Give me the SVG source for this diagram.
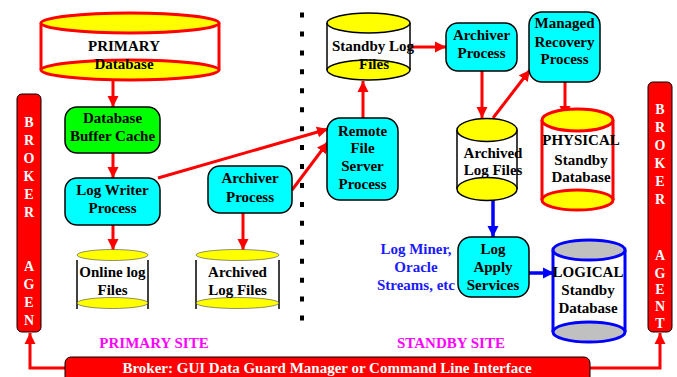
<svg xmlns="http://www.w3.org/2000/svg" width="677" height="377" viewBox="0 0 677 377">
  <style>
    text { font-family: "Liberation Serif", "Times New Roman", serif; font-weight: bold; font-size: 15px; text-anchor: middle; }
    .lbl { fill: #000; }
    .white { fill: #fff; }
    .agent { fill: #fff; font-size: 14px; }
    .site { fill: #ff00ff; }
    .blue { fill: #1a1aff; }
    .proc { fill: #00ffff; stroke: #000; stroke-width: 1.5; }
    .cache { fill: #00ff00; stroke: #000; stroke-width: 1.5; }
    .red { stroke: #ff0000; stroke-width: 3; fill: none; }
    .bluel { stroke: #0000ff; stroke-width: 3.5; fill: none; }
    .yel { fill: #ffff00; }
    .body { fill: #fff; }
  </style>
  <defs>
    <marker id="arrRed" markerUnits="userSpaceOnUse" markerWidth="12" markerHeight="12" viewBox="0 0 12 12" refX="11" refY="6" orient="auto">
      <path d="M0,0.5 L11,6 L0,11.5 Z" fill="#ff0000"/>
    </marker>
    <marker id="arrBlue" markerUnits="userSpaceOnUse" markerWidth="12" markerHeight="12" viewBox="0 0 12 12" refX="11" refY="6" orient="auto">
      <path d="M0,0.5 L11,6 L0,11.5 Z" fill="#0000ff"/>
    </marker>
  </defs>

  <!-- site divider -->
  <line x1="302" y1="12.5" x2="302" y2="322" stroke="#000" stroke-width="4" stroke-dasharray="5 13.94"/>

  <!-- connectors -->
  <g id="connectors">
    <line class="red" x1="113" y1="80" x2="113" y2="107" marker-end="url(#arrRed)"/>
    <line class="red" x1="113" y1="153" x2="113" y2="178" marker-end="url(#arrRed)"/>
    <line class="red" x1="113" y1="225" x2="113" y2="250" marker-end="url(#arrRed)"/>
    <line class="red" x1="243" y1="213" x2="243" y2="250" marker-end="url(#arrRed)"/>
    <line class="red" x1="158" y1="178" x2="328" y2="129" marker-end="url(#arrRed)"/>
    <line class="red" x1="292" y1="190" x2="328" y2="142" marker-end="url(#arrRed)"/>
    <line class="red" x1="363" y1="118" x2="363" y2="81" marker-end="url(#arrRed)"/>
    <line class="red" x1="411" y1="47" x2="446" y2="47" marker-end="url(#arrRed)"/>
    <line class="red" x1="482" y1="71" x2="482" y2="118" marker-end="url(#arrRed)"/>
    <line class="red" x1="493" y1="118" x2="530" y2="70" marker-end="url(#arrRed)"/>
    <line class="red" x1="565" y1="82" x2="565" y2="117" marker-end="url(#arrRed)"/>
    <line class="bluel" x1="493" y1="200" x2="493" y2="237" marker-end="url(#arrBlue)"/>
    <line class="bluel" x1="529" y1="273" x2="554" y2="273" marker-end="url(#arrBlue)"/>
    <polyline class="red" stroke-width="2.5" points="65,368 30,368 30,333" marker-end="url(#arrRed)"/>
    <polyline class="red" stroke-width="2.5" points="590,368 660,368 660,333" marker-end="url(#arrRed)"/>
  </g>

  <!-- primary site -->
  <g id="primary-db">
    <rect class="body" x="41" y="23" width="178" height="47"/>
    <line x1="41" y1="23" x2="41" y2="70" stroke="#ff0000" stroke-width="3"/>
    <line x1="219" y1="23" x2="219" y2="70" stroke="#ff0000" stroke-width="3"/>
    <ellipse class="yel" cx="130" cy="23" rx="89" ry="10" stroke="#ff0000" stroke-width="3"/>
    <ellipse class="yel" cx="130" cy="70" rx="89" ry="10" stroke="#ff0000" stroke-width="3"/>
    <text class="lbl" x="124" y="51">PRIMARY</text>
    <text class="lbl" x="124" y="69">Database</text>
  </g>

  <g id="buffer-cache">
    <rect class="cache" x="65" y="107" width="95" height="46" rx="12"/>
    <text class="lbl" x="112.5" y="123">Database</text>
    <text class="lbl" x="112.5" y="141">Buffer Cache</text>
  </g>

  <g id="log-writer">
    <rect class="proc" x="65" y="178" width="95" height="47" rx="12"/>
    <text class="lbl" x="112.5" y="195">Log Writer</text>
    <text class="lbl" x="112.5" y="213">Process</text>
  </g>

  <g id="online-logs">
    <rect class="body" x="77" y="255" width="71" height="48"/>
    <line x1="77" y1="260" x2="77" y2="309" stroke="#000" stroke-width="1.5"/>
    <line x1="148" y1="260" x2="148" y2="309" stroke="#000" stroke-width="1.5"/>
    <ellipse class="yel" cx="112.5" cy="255" rx="35.5" ry="5.5" stroke="#444" stroke-width="0.6"/>
    <ellipse class="yel" cx="112.5" cy="303" rx="35.5" ry="5.5" stroke="#444" stroke-width="0.6"/>
    <text class="lbl" x="112.5" y="277">Online log</text>
    <text class="lbl" x="112.5" y="295">Files</text>
  </g>

  <g id="primary-archiver">
    <rect class="proc" x="208" y="166" width="84" height="47" rx="12"/>
    <text class="lbl" x="250" y="183">Archiver</text>
    <text class="lbl" x="250" y="202">Process</text>
  </g>

  <g id="primary-archived-logs">
    <rect class="body" x="196" y="255" width="83" height="48"/>
    <line x1="196" y1="260" x2="196" y2="309" stroke="#000" stroke-width="1.5"/>
    <line x1="279" y1="260" x2="279" y2="309" stroke="#000" stroke-width="1.5"/>
    <ellipse class="yel" cx="237.5" cy="255" rx="41.5" ry="5.5" stroke="#444" stroke-width="0.6"/>
    <ellipse class="yel" cx="237.5" cy="303" rx="41.5" ry="5.5" stroke="#444" stroke-width="0.6"/>
    <text class="lbl" x="237.5" y="277">Archived</text>
    <text class="lbl" x="237.5" y="295">Log Files</text>
  </g>

  <!-- standby site -->
  <g id="rfs">
    <rect class="proc" x="327" y="118" width="71" height="82" rx="13"/>
    <text class="lbl" x="362.5" y="136">Remote</text>
    <text class="lbl" x="362.5" y="153">File</text>
    <text class="lbl" x="362.5" y="171">Server</text>
    <text class="lbl" x="362.5" y="189">Process</text>
  </g>

  <g id="standby-logs">
    <rect class="body" x="327" y="23" width="83" height="47"/>
    <line x1="327" y1="23" x2="327" y2="70" stroke="#000" stroke-width="1.5"/>
    <line x1="410" y1="23" x2="410" y2="70" stroke="#000" stroke-width="1.5"/>
    <ellipse class="yel" cx="368.5" cy="23" rx="41.5" ry="10" stroke="#000" stroke-width="1.5"/>
    <ellipse class="yel" cx="368.5" cy="70" rx="41.5" ry="10" stroke="#000" stroke-width="1.5"/>
    <text class="lbl" x="373" y="51">Standby Log</text>
    <text class="lbl" x="374" y="69">Files</text>
  </g>

  <g id="standby-archiver">
    <rect class="proc" x="446" y="23" width="71" height="48" rx="12"/>
    <text class="lbl" x="481.5" y="40">Archiver</text>
    <text class="lbl" x="481.5" y="58">Process</text>
  </g>

  <g id="mrp">
    <rect class="proc" x="529" y="12" width="71" height="70" rx="13"/>
    <text class="lbl" x="564.5" y="28">Managed</text>
    <text class="lbl" x="564.5" y="47">Recovery</text>
    <text class="lbl" x="564.5" y="64">Process</text>
  </g>

  <g id="standby-archived-logs">
    <rect class="body" x="457" y="130" width="60" height="59"/>
    <line x1="457" y1="130" x2="457" y2="189" stroke="#000" stroke-width="1.5"/>
    <line x1="517" y1="130" x2="517" y2="189" stroke="#000" stroke-width="1.5"/>
    <ellipse class="yel" cx="487" cy="130" rx="30" ry="11.5" stroke="#000" stroke-width="1.5"/>
    <ellipse class="yel" cx="487" cy="189" rx="30" ry="11.5" stroke="#000" stroke-width="1.5"/>
    <text class="lbl" x="493" y="158">Archived</text>
    <text class="lbl" x="493" y="175">Log Files</text>
  </g>

  <g id="physical-db">
    <rect class="body" x="542" y="120" width="71" height="80"/>
    <line x1="542" y1="120" x2="542" y2="200" stroke="#ff0000" stroke-width="3"/>
    <line x1="613" y1="120" x2="613" y2="200" stroke="#ff0000" stroke-width="3"/>
    <ellipse class="yel" cx="577.5" cy="120" rx="35.5" ry="11" stroke="#ff0000" stroke-width="3"/>
    <ellipse class="yel" cx="577.5" cy="200" rx="35.5" ry="10" stroke="#ff0000" stroke-width="3"/>
    <text class="lbl" x="581" y="145">PHYSICAL</text>
    <text class="lbl" x="581" y="165">Standby</text>
    <text class="lbl" x="581" y="182">Database</text>
  </g>

  <g id="log-apply">
    <rect class="proc" x="458" y="237" width="71" height="60" rx="13"/>
    <text class="lbl" x="493" y="254">Log</text>
    <text class="lbl" x="493" y="272">Apply</text>
    <text class="lbl" x="493" y="290">Services</text>
  </g>

  <g id="apply-tools">
    <text class="blue" x="416" y="254">Log Miner,</text>
    <text class="blue" x="416" y="272">Oracle</text>
    <text class="blue" x="416" y="290">Streams, etc</text>
  </g>

  <g id="logical-db">
    <rect class="body" x="553" y="250" width="72" height="82"/>
    <line x1="553" y1="250" x2="553" y2="332" stroke="#0000ff" stroke-width="3"/>
    <line x1="625" y1="250" x2="625" y2="332" stroke="#0000ff" stroke-width="3"/>
    <ellipse cx="589" cy="250" rx="36" ry="10" fill="#c0c0c0" stroke="#0000ff" stroke-width="3"/>
    <ellipse cx="589" cy="332" rx="36" ry="10" fill="#c0c0c0" stroke="#0000ff" stroke-width="3"/>
    <text class="lbl" x="588" y="277">LOGICAL</text>
    <text class="lbl" x="588" y="295">Standby</text>
    <text class="lbl" x="588" y="313">Database</text>
  </g>

  <!-- site captions -->
  <text class="site" x="154" y="348">PRIMARY SITE</text>
  <text class="site" x="451" y="348">STANDBY SITE</text>

  <!-- broker agents -->
  <g id="broker-agent-primary">
    <rect x="17" y="94" width="24" height="238" rx="5" fill="#ff0000" stroke="#000" stroke-width="1"/>
    <text class="agent" x="29" y="127">B</text>
    <text class="agent" x="29" y="145">R</text>
    <text class="agent" x="29" y="163">O</text>
    <text class="agent" x="29" y="181">K</text>
    <text class="agent" x="29" y="199">E</text>
    <text class="agent" x="29" y="217">R</text>
    <text class="agent" x="29" y="271">A</text>
    <text class="agent" x="29" y="289">G</text>
    <text class="agent" x="29" y="307">E</text>
    <text class="agent" x="29" y="325">N</text>
  </g>

  <g id="broker-agent-standby">
    <rect x="648" y="82" width="24" height="250" rx="5" fill="#ff0000" stroke="#000" stroke-width="1"/>
    <text class="agent" x="660" y="114">B</text>
    <text class="agent" x="660" y="132">R</text>
    <text class="agent" x="660" y="150">O</text>
    <text class="agent" x="660" y="168">K</text>
    <text class="agent" x="660" y="186">E</text>
    <text class="agent" x="660" y="204">R</text>
    <text class="agent" x="660" y="260">A</text>
    <text class="agent" x="660" y="278">G</text>
    <text class="agent" x="660" y="294">E</text>
    <text class="agent" x="660" y="311">N</text>
    <text class="agent" x="660" y="328">T</text>
  </g>

  <!-- broker console -->
  <g id="broker-console">
    <rect x="65" y="357" width="525" height="30" rx="6" fill="#ff0000" stroke="#000" stroke-width="1"/>
    <text class="white" x="327" y="373">Broker: GUI Data Guard Manager or Command Line Interface</text>
  </g>
</svg>
